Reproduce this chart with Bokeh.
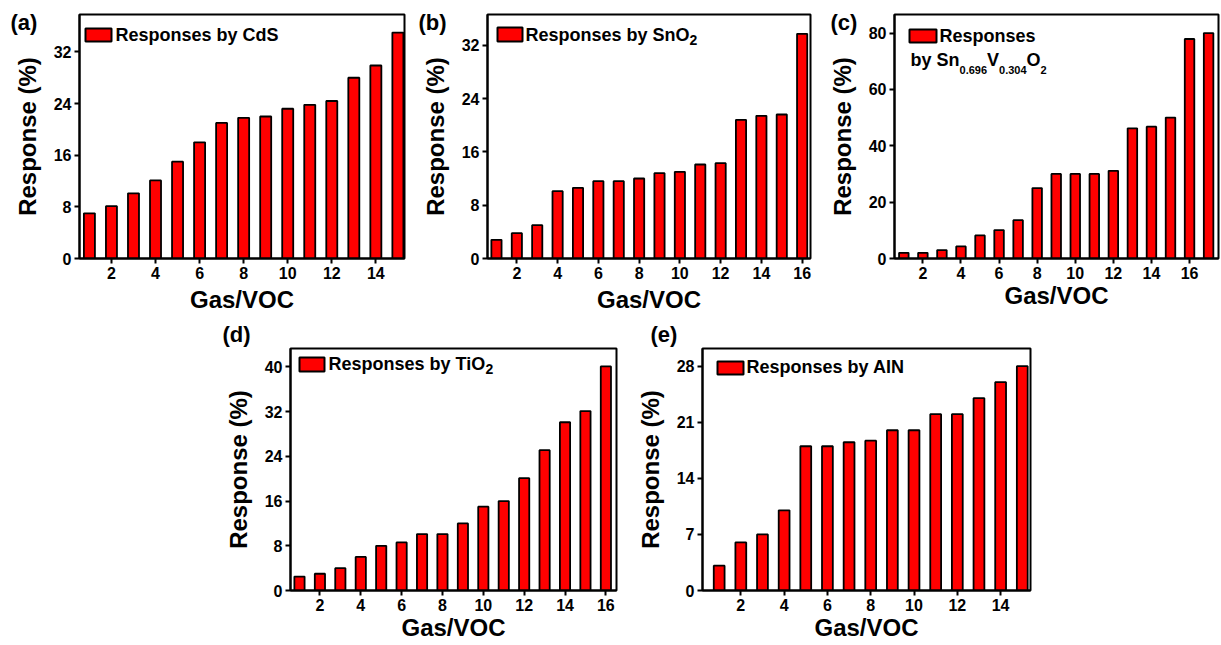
from bokeh.plotting import figure
from bokeh.models import Range1d, FixedTicker, Label, BoxAnnotation, Spacer
from bokeh.layouts import row, column
from bokeh.embed import file_html
from bokeh.resources import INLINE

# ---------------- data ----------------
gas_a = list(range(1, 16))
resp_a = [7.0, 8.1, 10.1, 12.1, 15.0, 18.0, 21.0, 21.8, 22.0, 23.2, 23.8, 24.4, 28.0, 29.9, 35.0]

gas_b = list(range(1, 17))
resp_b = [2.8, 3.8, 5.0, 10.1, 10.6, 11.6, 11.6, 12.0, 12.8, 13.0, 14.1, 14.3, 20.8, 21.4, 21.6, 33.7]

gas_c = list(range(1, 18))
resp_c = [2.0, 2.0, 3.0, 4.3, 8.2, 10.1, 13.6, 25.0, 30.0, 30.0, 30.0, 31.1, 46.2, 46.8, 50.0, 77.9, 80.0]

gas_d = list(range(1, 17))
resp_d = [2.5, 3.0, 4.0, 6.0, 8.0, 8.6, 10.1, 10.1, 12.0, 15.0, 16.0, 20.1, 25.1, 30.1, 32.1, 40.1]

gas_e = list(range(1, 16))
resp_e = [3.1, 6.0, 7.0, 10.0, 18.0, 18.0, 18.5, 18.7, 20.0, 20.0, 22.0, 22.0, 24.0, 26.0, 28.0]

yticks_a = [0, 8, 16, 24, 32]
yticks_b = [0, 8, 16, 24, 32]
yticks_c = [0, 20, 40, 60, 80]
yticks_d = [0, 8, 16, 24, 32, 40]
yticks_e = [0, 7, 14, 21, 28]
xticks = [2, 4, 6, 8, 10, 12, 14, 16]

FONT = "Liberation Sans"
RED = "#ff0000"

# Arial-bold advance widths (em) for legend text composition
W = {'0': .556, '1': .556, '2': .556, '3': .556, '4': .556, '5': .556, '6': .556,
     '7': .556, '8': .556, '9': .556, '.': .278, ' ': .278, 'b': .611, 'y': .556,
     'S': .667, 'n': .611, 'V': .667, 'O': .778, 'R': .722, 'e': .556, 's': .556,
     'p': .611, 'o': .611, 'T': .611, 'i': .278, 'C': .722, 'd': .611, 'A': .722,
     'I': .278, 'N': .722}


def twidth(s, size):
    return sum(W.get(ch, .6) for ch in s) * size


def panel(tag, gas, resp, yticks, xr, yr, borders, fw, fh, legend_box, legend_lines,
          tag_offset, tag_standoff, tag_pad=0, label_standoff_x=4):
    left, right, top, bottom = borders
    p = figure(frame_width=fw, frame_height=fh,
               min_border_left=left, min_border_right=right,
               min_border_top=top, min_border_bottom=bottom,
               x_range=Range1d(*xr), y_range=Range1d(*yr),
               title=tag,
               output_backend="svg", toolbar_location=None,
               background_fill_color="white", border_fill_color="white")
    p.title.align = "left"
    p.title.offset = tag_offset
    p.title.standoff = tag_standoff
    p.title.text_font = FONT
    p.title.text_font_style = "bold"
    p.title.text_font_size = "22px"
    p.title.text_color = "black"
    if tag_pad:
        try:
            p.title.padding = dict(left=0, right=0, top=tag_pad, bottom=0)
        except Exception:
            pass

    p.vbar(x=gas, top=resp, width=0.5, fill_color=RED, line_color="black", line_width=1.8)
    p.grid.visible = False
    p.outline_line_color = "black"
    p.outline_line_width = 2
    p.outline_line_alpha = 1

    for ax in (p.xaxis[0], p.yaxis[0]):
        ax.axis_line_width = 2
        ax.major_tick_line_width = 2
        ax.major_tick_out = 5
        ax.major_tick_in = 0
        ax.minor_tick_out = 0
        ax.minor_tick_in = 0
        ax.major_label_text_font = FONT
        ax.major_label_text_font_style = "bold"
        ax.major_label_text_font_size = "16px"
        ax.major_label_text_color = "black"
        ax.axis_label_text_font = FONT
        ax.axis_label_text_font_style = "bold"
        ax.axis_label_text_font_size = "24px"
        ax.axis_label_text_color = "black"
        ax.major_label_standoff = 3

    p.xaxis[0].ticker = FixedTicker(ticks=xticks)
    p.yaxis[0].ticker = FixedTicker(ticks=yticks)
    p.xaxis[0].axis_label = "Gas/VOC"
    p.yaxis[0].axis_label = "Response (%)"
    p.xaxis[0].axis_label_standoff = label_standoff_x
    p.yaxis[0].axis_label_standoff = 10

    # legend box (screen units relative to frame, y from bottom)
    bx0, bx1, by0, by1 = legend_box
    p.add_layout(BoxAnnotation(left=bx0, right=bx1, top=fh - by0, bottom=fh - by1,
                               left_units="screen", right_units="screen",
                               top_units="screen", bottom_units="screen",
                               fill_color=RED, fill_alpha=1, line_color="black",
                               line_width=2, line_alpha=1))
    for (x0, yc, pieces) in legend_lines:
        x = x0
        for (txt, size, dy) in pieces:
            p.add_layout(Label(x=x, y=fh - yc - dy, x_units="screen", y_units="screen",
                               text=txt, text_font=FONT, text_font_style="bold",
                               text_font_size=f"{size}px", text_baseline="middle",
                               text_align="left", text_color="black"))
            x += twidth(txt, size)
    return p


pa = panel("(a)", gas_a, resp_a, yticks_a, (0.55, 15.3), (0, 37.8),
           (79, 3, 14, 60), 325, 244,
           (6, 32, 14, 27),
           [(36, 20, [("Responses by CdS", 18, 0)])],
           -69, -40, tag_pad=9)

pb = panel("(b)", gas_b, resp_b, yticks_b, (0.56, 16.41), (0, 36.6),
           (80, 4, 14, 60), 323, 244,
           (10, 35, 13, 27),
           [(38, 20, [("Responses by SnO", 18, 0), ("2", 14, 5)])],
           -69, -40, tag_pad=9)

pc = panel("(c)", gas_c, resp_c, yticks_c, (0.51, 17.52), (0, 86.6),
           (80, 3, 14, 60), 324, 244,
           (15, 42, 15, 28),
           [(45, 21, [("Responses", 18, 0)]),
            (16, 45, [("by Sn", 18, 0), ("0.696", 11, 10), ("V", 18, 0),
                      ("0.304", 11, 10), ("O", 18, 0), ("2", 11, 10)])],
           -64, -40, tag_pad=11, label_standoff_x=0)

pd_ = panel("(d)", gas_d, resp_d, yticks_d, (0.56, 16.52), (0, 43.3),
            (80, 4, 28, 54), 326, 242,
            (9, 34, 9, 23),
            [(38, 15, [("Responses by TiO", 18, 0), ("2", 14, 5)])],
            -68, 3, label_standoff_x=0)

pe = panel("(e)", gas_e, resp_e, yticks_e, (0.23, 15.38), (0, 30.2),
           (82, 191, 28, 54), 328, 242,
           (15, 41, 13, 26),
           [(44, 18, [("Responses by AIN", 18, 0)])],
           -52, 3, label_standoff_x=0)

layout = column(row(pa, pb, pc), row(Spacer(width=210, height=324), pd_, pe))

open("out.html", "w").write(file_html(layout, INLINE))
